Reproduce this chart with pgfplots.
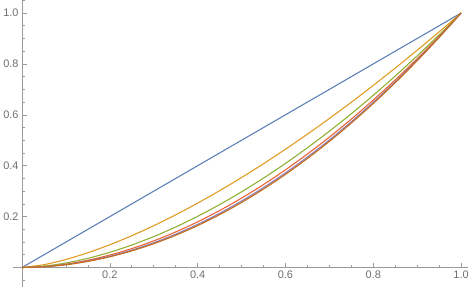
\documentclass[border=0pt]{standalone}
\usepackage{fontspec}
\setmainfont{Liberation Sans}
\usepackage{pgfplots}
\pgfplotsset{compat=1.18}
\definecolor{c1}{HTML}{5E81B5}
\definecolor{c2}{HTML}{E19C24}
\definecolor{c3}{HTML}{8FB032}
\definecolor{c4}{HTML}{EB6235}
\definecolor{c5}{HTML}{8778B3}
\definecolor{c6}{HTML}{C56E1A}
\definecolor{axgray}{HTML}{9A9A9A}
\definecolor{lblgray}{HTML}{6E6E6E}
\begin{document}
\begin{tikzpicture}
\begin{axis}[
  scale only axis,
  width=455.4bp, height=286.9bp,
  axis lines=middle,
  every inner x axis line/.append style={-},
  every inner y axis line/.append style={-},
  axis line style={draw=axgray, line width=0.6pt, -},
  xmin=-0.02, xmax=1.015, ymin=-0.075, ymax=1.05,
  xtick={0.2,0.4,0.6,0.8,1.0},
  ytick={0.2,0.4,0.6,0.8,1.0},
  minor xtick={0.05,0.1,0.15,0.25,0.3,0.35,0.45,0.5,0.55,0.65,0.7,0.75,0.85,0.9,0.95},
  minor ytick={-0.05,0.05,0.1,0.15,0.25,0.3,0.35,0.45,0.5,0.55,0.65,0.7,0.75,0.85,0.9,0.95,1.05},
  xticklabels={0.2,0.4,0.6,0.8,1.0},
  yticklabels={0.2,0.4,0.6,0.8,1.0},
  tick align=inside,
  major tick length=4.7bp, minor tick length=2.8bp,
  tick style={draw=axgray, line width=0.6pt},
  ticklabel style={font=\fontsize{11}{13}\selectfont, text=lblgray},
  /pgf/number format/assume math mode=true,
  clip=false,
  every axis plot/.append style={line width=1.1pt, no marks, line join=round},
]
\addplot[c1] coordinates {(0,0) (1,1)};
\addplot[c2, smooth] coordinates {(0,0) (0.05,0.011180) (0.1,0.031623) (0.15,0.058095) (0.2,0.089443) (0.25,0.125) (0.3,0.164317) (0.35,0.207063) (0.4,0.252982) (0.45,0.301869) (0.5,0.353553) (0.55,0.407891) (0.6,0.464758) (0.65,0.524047) (0.7,0.585662) (0.75,0.649519) (0.8,0.715542) (0.85,0.783661) (0.9,0.853815) (0.95,0.925945) (1,1)};
\addplot[c3, smooth] coordinates {(0,0) (0.05,0.005287) (0.1,0.017783) (0.15,0.036154) (0.2,0.059814) (0.25,0.088388) (0.3,0.121608) (0.35,0.159265) (0.4,0.201189) (0.45,0.247242) (0.5,0.297302) (0.55,0.351265) (0.6,0.409039) (0.65,0.470542) (0.7,0.535699) (0.75,0.604445) (0.8,0.676718) (0.85,0.752459) (0.9,0.831619) (0.95,0.914147) (1,1)};
\addplot[c4, smooth] coordinates {(0,0) (0.05,0.003636) (0.1,0.013335) (0.15,0.028521) (0.2,0.048914) (0.25,0.074325) (0.3,0.104617) (0.35,0.139677) (0.4,0.179416) (0.45,0.223755) (0.5,0.272627) (0.55,0.325972) (0.6,0.383737) (0.65,0.445875) (0.7,0.512339) (0.75,0.583095) (0.8,0.658104) (0.85,0.737327) (0.9,0.820738) (0.95,0.908305) (1,1)};
\addplot[c5, smooth] coordinates {(0,0) (0.05,0.003015) (0.1,0.011548) (0.15,0.025332) (0.2,0.044233) (0.25,0.068156) (0.3,0.097034) (0.35,0.130806) (0.4,0.169430) (0.45,0.212862) (0.5,0.261069) (0.55,0.314017) (0.6,0.371679) (0.65,0.434031) (0.7,0.501044) (0.75,0.572705) (0.8,0.648990) (0.85,0.729876) (0.9,0.815352) (0.95,0.905398) (1,1)};
\addplot[c6, smooth] coordinates {(0,0) (0.05,0.002746) (0.1,0.010746) (0.15,0.023874) (0.2,0.042063) (0.25,0.065266) (0.3,0.093451) (0.35,0.126584) (0.4,0.164647) (0.45,0.207616) (0.5,0.255475) (0.55,0.308205) (0.6,0.365793) (0.65,0.428227) (0.7,0.495490) (0.75,0.567579) (0.8,0.644481) (0.85,0.726179) (0.9,0.812672) (0.95,0.903948) (1,1)};
\end{axis}
\end{tikzpicture}
\end{document}
